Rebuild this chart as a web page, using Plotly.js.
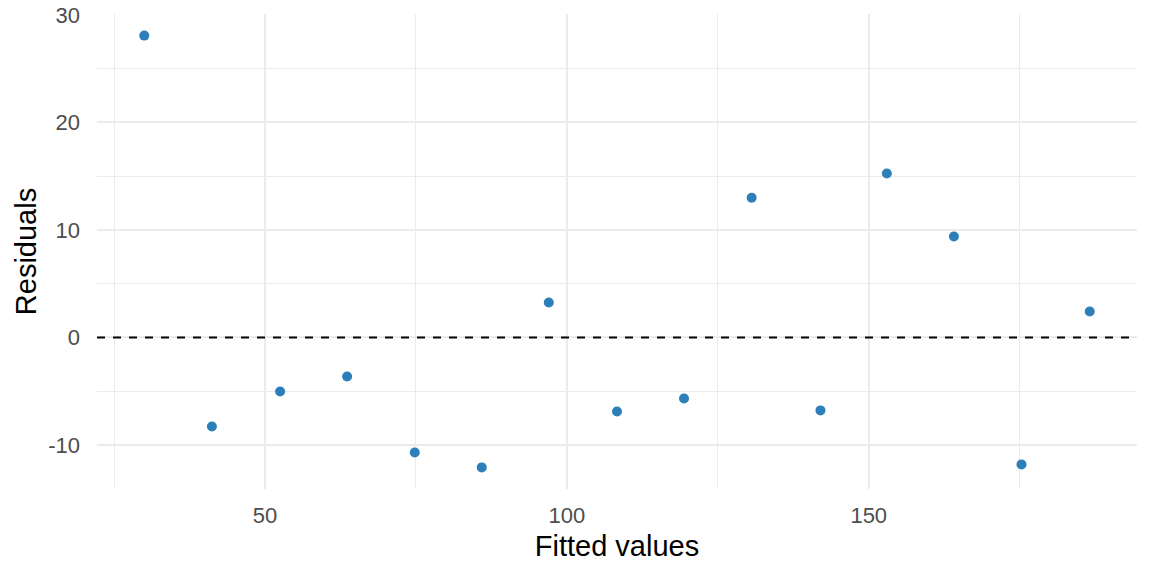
<!DOCTYPE html>
<html>
<head>
<meta charset="utf-8">
<script src="https://cdn.plot.ly/plotly-3.0.1.min.js"></script>
<style>html,body{margin:0;padding:0;background:#fff;}#chart{width:1152px;height:576px;}</style>
</head>
<body>
<div id="chart"></div>
<script>
const fittedValues = [30.0, 41.2, 52.5, 63.6, 74.8, 85.9, 97.0, 108.3, 119.4, 130.6, 142.0, 153.0, 164.1, 175.3, 186.6];
const residuals = [28.07, -8.27, -5.02, -3.62, -10.7, -12.08, 3.25, -6.88, -5.67, 13.0, -6.78, 15.24, 9.39, -11.8, 2.42];
const xTicks = [50, 100, 150];
const yTicks = [-10, 0, 10, 20, 30];
const refLineY = 0;

const xSpan = Math.max(...fittedValues) - Math.min(...fittedValues);
const ySpan = Math.max(...residuals) - Math.min(...residuals);
const xRange = [Math.min(...fittedValues) - 0.05 * xSpan, Math.max(...fittedValues) + 0.05 * xSpan];
const yRange = [Math.min(...residuals) - 0.05 * ySpan, Math.max(...residuals) + 0.05 * ySpan];

const traces = [
  {
    x: xRange, y: [refLineY, refLineY], mode: 'lines', type: 'scatter',
    line: {color: '#000000', width: 2, dash: '8px,8px'}, hoverinfo: 'skip', showlegend: false
  },
  {
    x: fittedValues, y: residuals, mode: 'markers', type: 'scatter',
    marker: {color: '#2c7fb8', size: 10}, showlegend: false
  }
];

const gridColor = '#ebebeb';
const layout = {
  width: 1152, height: 576,
  margin: {l: 97, r: 15, t: 14, b: 87},
  paper_bgcolor: '#ffffff', plot_bgcolor: '#ffffff',
  font: {family: '"Liberation Sans", Arial, sans-serif', color: '#4d4d4d'},
  showlegend: false,
  xaxis: {
    range: xRange, tickvals: xTicks, ticktext: xTicks.map(String),
    showgrid: true, gridcolor: gridColor, gridwidth: 2,
    minor: {dtick: 50, tick0: 25, showgrid: true, gridcolor: gridColor, gridwidth: 1},
    zeroline: false, showline: false, ticks: '',
    tickfont: {size: 22, color: '#4d4d4d'}, ticklabelstandoff: 11,
    title: {text: 'Fitted values', font: {size: 29, color: '#000000'}, standoff: 8},
    automargin: false
  },
  yaxis: {
    range: yRange, tickvals: yTicks, ticktext: yTicks.map(String),
    showgrid: true, gridcolor: gridColor, gridwidth: 2,
    minor: {dtick: 10, tick0: 5, showgrid: true, gridcolor: gridColor, gridwidth: 1},
    zeroline: false, showline: false, ticks: '',
    tickfont: {size: 22, color: '#4d4d4d'}, ticklabelstandoff: 16,
    title: {text: 'Residuals', font: {size: 29, color: '#000000'}, standoff: 3},
    automargin: false
  }
};

Plotly.newPlot('chart', traces, layout, {displayModeBar: false, staticPlot: true});
</script>
</body>
</html>
